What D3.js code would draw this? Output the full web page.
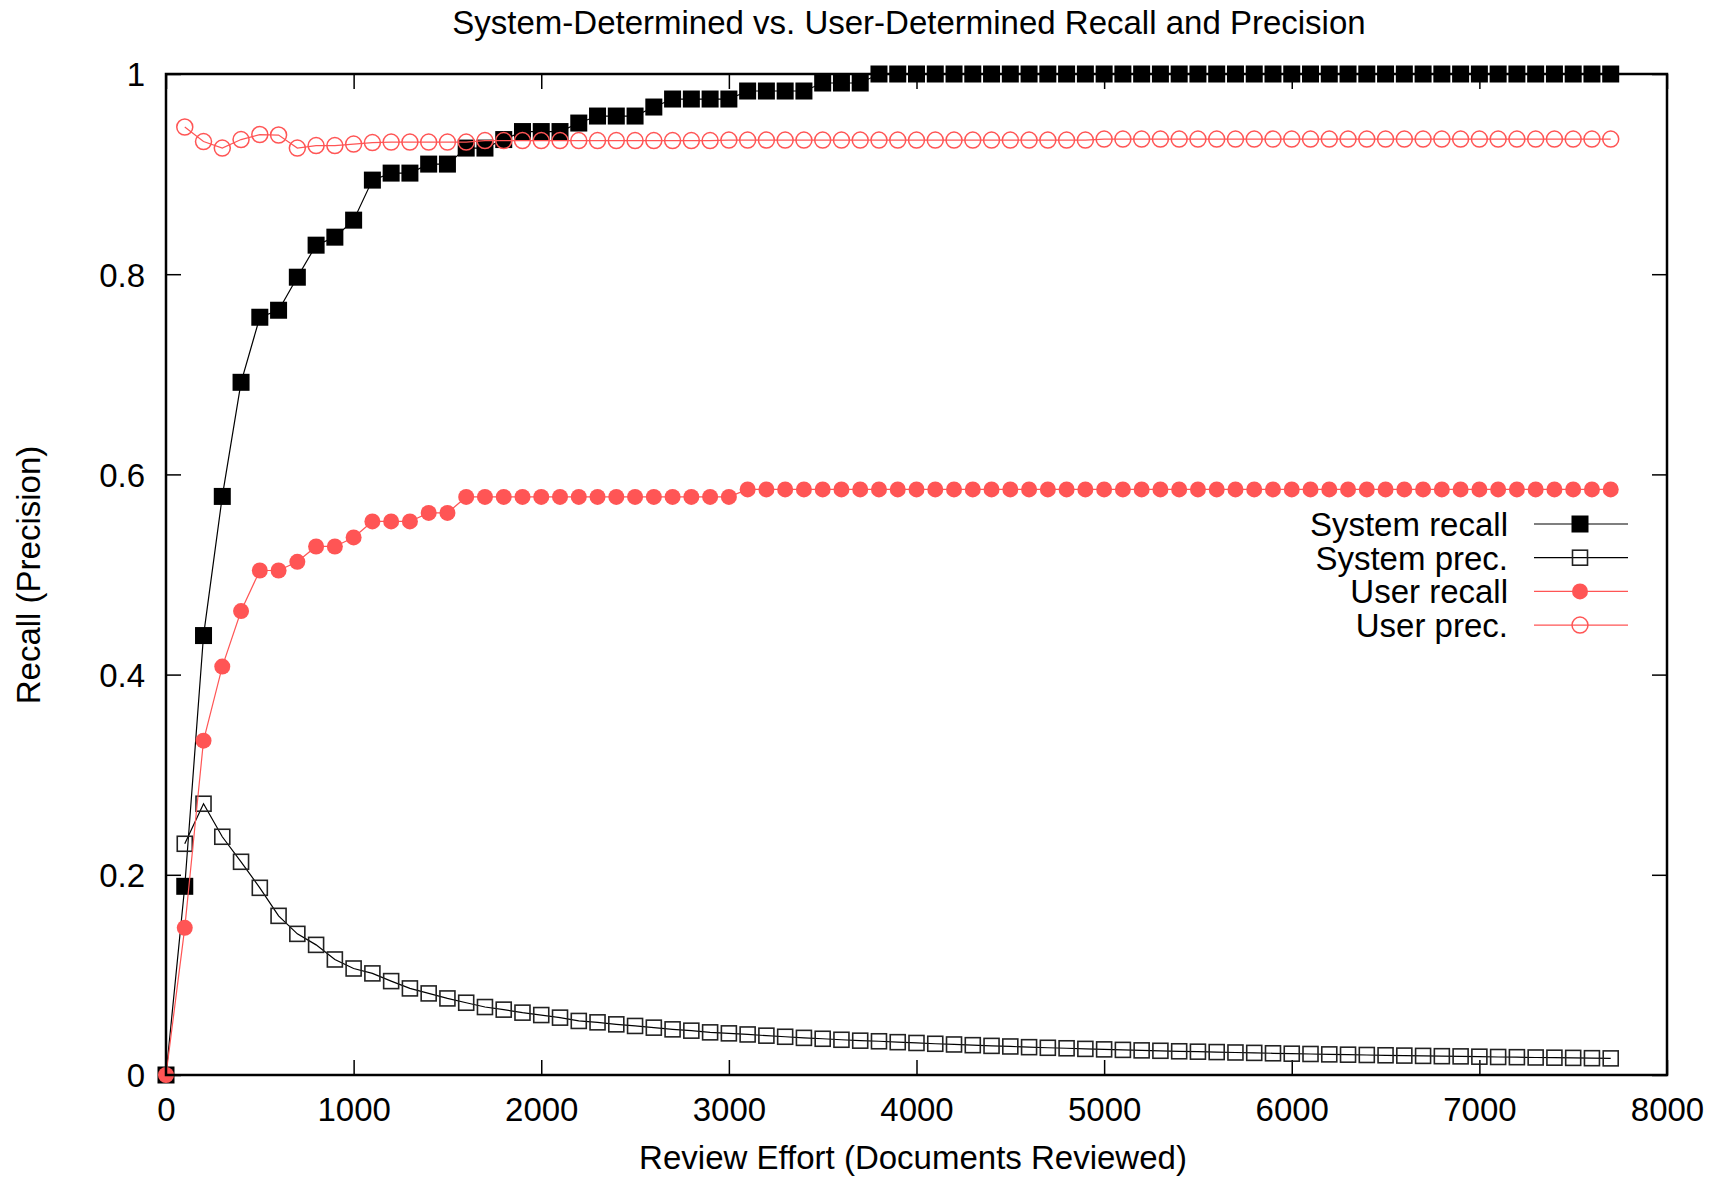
<!DOCTYPE html>
<html>
<head>
<meta charset="utf-8">
<script src="https://cdn.jsdelivr.net/npm/d3@7"></script>
<style>
  body { margin: 0; background: #fff; }
  text { font-family: "Liberation Sans", Arial, sans-serif; fill: #000; }
</style>
</head>
<body>
<svg id="chart" width="1733" height="1178"></svg>
<script>
// review effort, one point every 100 documents
var effort = d3.range(0, 7800, 100);

var sysRecall = [0, 0.1885, 0.439, 0.578, 0.692, 0.757, 0.764, 0.797, 0.829, 0.837,
  0.854, 0.894, 0.901, 0.901, 0.910, 0.910, 0.926, 0.926, 0.9345, 0.9425,
  0.9425, 0.9425, 0.951, 0.958, 0.958, 0.958, 0.967, 0.975, 0.975, 0.975,
  0.975, 0.983, 0.983, 0.983, 0.983, 0.991, 0.991, 0.991, 1, 1,
  1, 1, 1, 1, 1, 1, 1, 1, 1, 1,
  1, 1, 1, 1, 1, 1, 1, 1, 1, 1,
  1, 1, 1, 1, 1, 1, 1, 1, 1, 1,
  1, 1, 1, 1, 1, 1, 1, 1];

// precision is undefined at 0 documents
var sysPrec = [null, 0.231, 0.271, 0.238, 0.213, 0.187, 0.159, 0.141, 0.130, 0.1154,
  0.1064, 0.1015, 0.0938, 0.0865, 0.0815, 0.0765, 0.0722, 0.0679, 0.0653, 0.0623,
  0.0599, 0.0573, 0.054, 0.0526, 0.0506, 0.049, 0.0473, 0.0456, 0.0443, 0.0426,
  0.0416, 0.0405, 0.0393, 0.0382, 0.0371, 0.0362, 0.0352, 0.0343, 0.0337, 0.0328,
  0.032, 0.0312, 0.0305, 0.0298, 0.0291, 0.0285, 0.0278, 0.0272, 0.0267, 0.0261,
  0.0256, 0.0251, 0.0246, 0.0242, 0.0237, 0.0233, 0.0229, 0.0225, 0.0221, 0.0217,
  0.0213, 0.021, 0.0206, 0.0203, 0.02, 0.0197, 0.0194, 0.0191, 0.0188, 0.0186,
  0.0183, 0.018, 0.0178, 0.0175, 0.0173, 0.0171, 0.0168, 0.0166];

var userRecall = [0, 0.147, 0.334, 0.408, 0.4635, 0.504, 0.504, 0.5127, 0.528, 0.528,
  0.537, 0.553, 0.553, 0.553, 0.5615, 0.5615, 0.5775, 0.5775, 0.5775, 0.5775,
  0.5775, 0.5775, 0.5775, 0.5775, 0.5775, 0.5775, 0.5775, 0.5775, 0.5775, 0.5775,
  0.5775, 0.585, 0.585, 0.585, 0.585, 0.585, 0.585, 0.585, 0.585, 0.585,
  0.585, 0.585, 0.585, 0.585, 0.585, 0.585, 0.585, 0.585, 0.585, 0.585,
  0.585, 0.585, 0.585, 0.585, 0.585, 0.585, 0.585, 0.585, 0.585, 0.585,
  0.585, 0.585, 0.585, 0.585, 0.585, 0.585, 0.585, 0.585, 0.585, 0.585,
  0.585, 0.585, 0.585, 0.585, 0.585, 0.585, 0.585, 0.585];

var userPrec = [null, 0.947, 0.9325, 0.926, 0.9345, 0.9395, 0.939, 0.926, 0.9285, 0.9285,
  0.930, 0.9315, 0.932, 0.932, 0.932, 0.932, 0.932, 0.9335, 0.9335, 0.9335,
  0.9335, 0.9335, 0.9335, 0.9335, 0.9335, 0.9335, 0.9335, 0.9335, 0.9335, 0.9335,
  0.934, 0.934, 0.934, 0.934, 0.934, 0.934, 0.934, 0.934, 0.934, 0.934,
  0.934, 0.934, 0.934, 0.934, 0.934, 0.934, 0.934, 0.934, 0.934, 0.934,
  0.935, 0.935, 0.935, 0.935, 0.935, 0.935, 0.935, 0.935, 0.935, 0.935,
  0.935, 0.935, 0.935, 0.935, 0.935, 0.935, 0.935, 0.935, 0.935, 0.935,
  0.935, 0.935, 0.935, 0.935, 0.935, 0.935, 0.935, 0.935];

var xTicks = [0, 1000, 2000, 3000, 4000, 5000, 6000, 7000, 8000];
var xTickLabels = ["0", "1000", "2000", "3000", "4000", "5000", "6000", "7000", "8000"];
var yTicks = [0, 0.2, 0.4, 0.6, 0.8, 1];
var yTickLabels = ["0", "0.2", "0.4", "0.6", "0.8", "1"];

var red = "#ff5555";
var seriesList = [
  {name: "System recall", values: sysRecall, color: "#000", shape: "square", filled: true, size: 17},
  {name: "System prec.", values: sysPrec, color: "#000", shape: "square", filled: false, size: 15},
  {name: "User recall", values: userRecall, color: red, shape: "circle", filled: true, size: 16},
  {name: "User prec.", values: userPrec, color: red, shape: "circle", filled: false, size: 16}
];

var svg = d3.select("#chart");
var plotL = 166, plotR = 1667, plotT = 74, plotB = 1075;

var x = d3.scaleLinear().domain([0, 8000]).range([plotL, plotR]);
var y = d3.scaleLinear().domain([0, 1]).range([plotB, plotT]);

svg.append("rect").attr("width", 1733).attr("height", 1178).attr("fill", "#fff");

// axes with inward ticks, mirrored on top and right
var tickLen = 15;
function styleTicks(g) {
  g.select(".domain").remove();
  g.selectAll("line").attr("stroke", "#000").attr("stroke-width", 1.5);
}
svg.append("g").attr("transform", "translate(0," + plotB + ")")
  .call(d3.axisBottom(x).tickValues(xTicks).tickSizeInner(-tickLen).tickSizeOuter(0)
    .tickFormat(function(d, i) { return xTickLabels[i]; }))
  .call(styleTicks)
  .call(function(g) {
    g.selectAll("text").attr("font-size", 33).attr("dy", 0).attr("y", 46);
  });
svg.append("g").attr("transform", "translate(0," + plotT + ")")
  .call(d3.axisTop(x).tickValues(xTicks).tickSizeInner(-tickLen).tickSizeOuter(0).tickFormat(""))
  .call(styleTicks);
svg.append("g").attr("transform", "translate(" + plotL + ",0)")
  .call(d3.axisLeft(y).tickValues(yTicks).tickSizeInner(-tickLen).tickSizeOuter(0)
    .tickFormat(function(d, i) { return yTickLabels[i]; }))
  .call(styleTicks)
  .call(function(g) {
    g.selectAll("text").attr("font-size", 33).attr("x", -21).attr("dy", "0.36em");
  });
svg.append("g").attr("transform", "translate(" + plotR + ",0)")
  .call(d3.axisRight(y).tickValues(yTicks).tickSizeInner(-tickLen).tickSizeOuter(0).tickFormat(""))
  .call(styleTicks);

// marker drawing
function drawMarker(sel, s) {
  var size = s.size;
  if (s.shape == "square") {
    sel.append("rect")
      .attr("x", -size / 2).attr("y", -size / 2)
      .attr("width", size).attr("height", size)
      .attr("fill", s.filled ? s.color : "none")
      .attr("stroke", s.filled ? "none" : "#222")
      .attr("stroke-width", 1.6);
  } else {
    sel.append("circle")
      .attr("r", size / 2)
      .attr("fill", s.filled ? s.color : "none")
      .attr("stroke", s.filled ? "none" : s.color)
      .attr("stroke-width", 1.5);
  }
}

var line = d3.line()
  .defined(function(d) { return d.v != null; })
  .x(function(d) { return x(d.e); })
  .y(function(d) { return y(d.v); });

seriesList.forEach(function(s) {
  var pts = effort.map(function(e, i) { return {e: e, v: s.values[i]}; });
  var g = svg.append("g");
  g.append("path")
    .attr("d", line(pts))
    .attr("fill", "none")
    .attr("stroke", s.color)
    .attr("stroke-width", 1.2);
  g.selectAll("g.pt")
    .data(pts.filter(function(d) { return d.v != null; }))
    .enter().append("g")
    .attr("class", "pt")
    .attr("transform", function(d) { return "translate(" + x(d.e) + "," + y(d.v) + ")"; })
    .each(function() { drawMarker(d3.select(this), s); });
});

// border
svg.append("rect")
  .attr("x", plotL).attr("y", plotT)
  .attr("width", plotR - plotL).attr("height", plotB - plotT)
  .attr("fill", "none").attr("stroke", "#000").attr("stroke-width", 2.5);

// legend
var legend = svg.append("g");
seriesList.forEach(function(s, i) {
  var ly = 524 + i * 33.7;
  legend.append("text")
    .attr("x", 1508).attr("y", ly).attr("dy", "0.36em")
    .attr("text-anchor", "end").attr("font-size", 33)
    .text(s.name);
  legend.append("line")
    .attr("x1", 1534).attr("x2", 1628).attr("y1", ly).attr("y2", ly)
    .attr("stroke", s.color).attr("stroke-width", 1.2);
  var m = legend.append("g").attr("transform", "translate(1580," + ly + ")");
  drawMarker(m, s);
});

// titles
svg.append("text")
  .attr("x", 909).attr("y", 34)
  .attr("text-anchor", "middle").attr("font-size", 33)
  .text("System-Determined vs. User-Determined Recall and Precision");

svg.append("text")
  .attr("x", 913).attr("y", 1169)
  .attr("text-anchor", "middle").attr("font-size", 33)
  .text("Review Effort (Documents Reviewed)");

svg.append("text")
  .attr("transform", "translate(40,575) rotate(-90)")
  .attr("text-anchor", "middle").attr("font-size", 33)
  .text("Recall (Precision)");
</script>
</body>
</html>
